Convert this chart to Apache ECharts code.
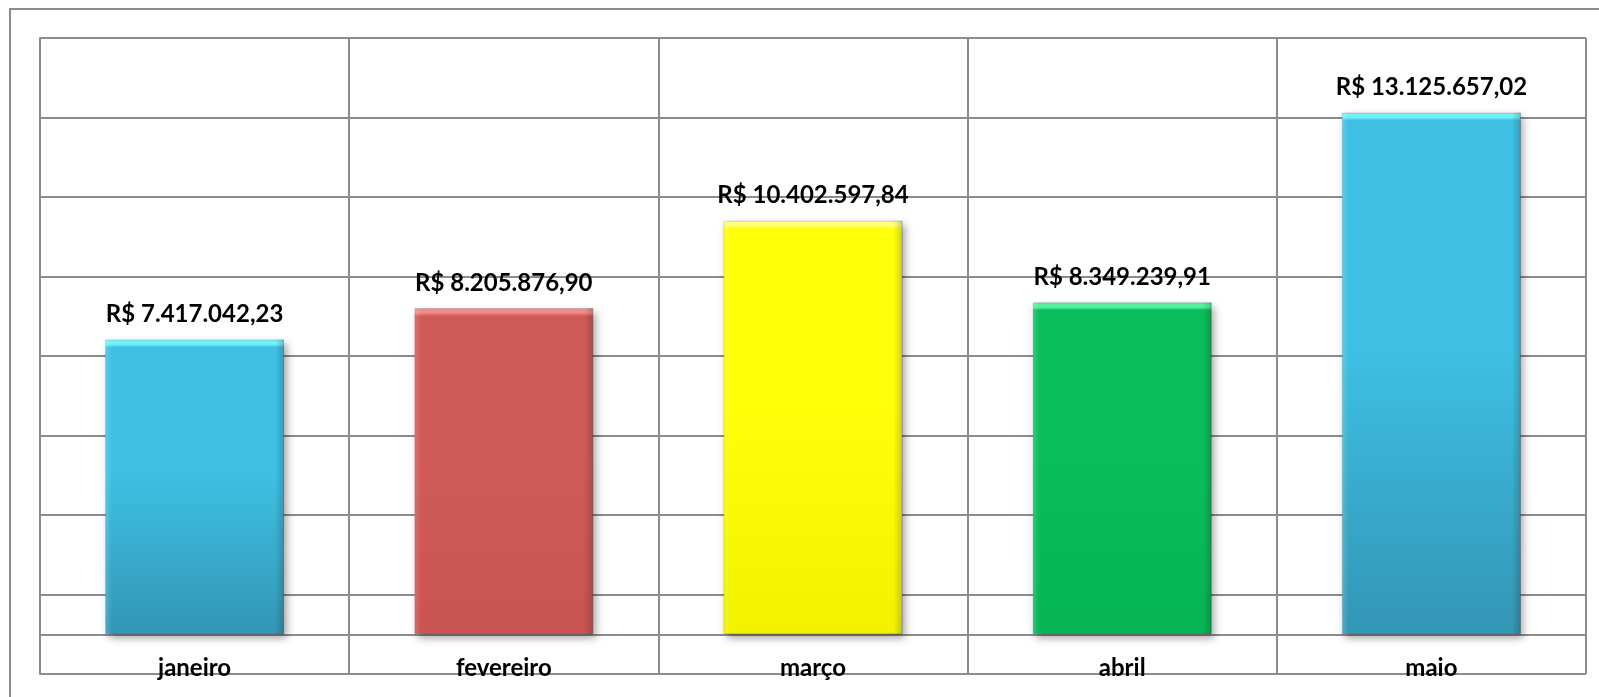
<!DOCTYPE html>
<html>
<head>
<meta charset="utf-8">
<script src="https://cdn.jsdelivr.net/npm/echarts@6/dist/echarts.min.js"></script>
<style>
  html, body { margin: 0; padding: 0; background: #ffffff; }
  #chart { width: 1599px; height: 697px; }
</style>
</head>
<body>
<div id="chart"></div>
<script>
// ---- data ----
const categories = ['janeiro', 'fevereiro', 'março', 'abril', 'maio'];
const values = [7417042.23, 8205876.90, 10402597.84, 8349239.91, 13125657.02];
const barColors = [
  ['#72f2f8', '#3ec0e4', '#3396b5'],
  ['#f48c8a', '#cf5a57', '#c95452'],
  ['#ffff80', '#ffff0a', '#f2f200'],
  ['#55f2a0', '#0abd5b', '#06b455'],
  ['#72f2f8', '#3ec0e4', '#3396b5']
];

function fmtBRL(v) {
  const fixed = v.toFixed(2);
  const parts = fixed.split('.');
  const intPart = parts[0].replace(/\B(?=(\d{3})+(?!\d))/g, '.');
  return 'R$ ' + intPart + ',' + parts[1];
}

const chart = echarts.init(document.getElementById('chart'));
const gridColor = '#8c8c8c';
const pxPerUnit = 636 / 16000000; // only for bevel thickness in the gradient

const data = values.map(function (v, i) {
  const c = barColors[i];
  const h = v * pxPerUnit;
  const bevel = Math.min(0.2, 8 / h);
  return {
    value: v,
    itemStyle: {
      color: new echarts.graphic.LinearGradient(0, 0, 0, 1, [
        { offset: 0, color: c[0] },
        { offset: bevel * 0.6, color: c[0] },
        { offset: bevel, color: c[1] },
        { offset: 0.45, color: c[1] },
        { offset: 1, color: c[2] }
      ]),
      borderColor: 'rgba(0,0,0,0.15)',
      borderWidth: 1,
      shadowBlur: 8,
      shadowOffsetX: 3,
      shadowOffsetY: 4,
      shadowColor: 'rgba(0,0,0,0.35)'
    }
  };
});

const overlay = values.map(function (v) {
  return {
    value: v,
    itemStyle: {
      color: new echarts.graphic.LinearGradient(0, 0, 1, 0, [
        { offset: 0, color: 'rgba(255,255,255,0.18)' },
        { offset: 0.04, color: 'rgba(255,255,255,0.0)' },
        { offset: 0.95, color: 'rgba(0,0,0,0.0)' },
        { offset: 1, color: 'rgba(0,0,0,0.18)' }
      ])
    }
  };
});

chart.setOption({
  animation: false,
  backgroundColor: '#ffffff',
  textStyle: { fontFamily: 'Lato' },
  graphic: [{
    type: 'rect',
    shape: { x: 10, y: 9, width: 1620, height: 720 },
    style: { fill: 'none', stroke: gridColor, lineWidth: 2 },
    silent: true, z: -1
  }],
  grid: { left: 40, top: 38, right: 13, bottom: 23, containLabel: false, outerBoundsMode: 'none' },
  xAxis: {
    type: 'category',
    data: categories,
    axisLine: { show: false, onZero: false },
    axisTick: { show: false },
    splitLine: { show: true, lineStyle: { color: gridColor, width: 2 } },
    axisLabel: {
      color: '#000', fontWeight: 'bold', fontSize: 24, fontFamily: 'Lato', margin: -18
    }
  },
  yAxis: {
    type: 'value',
    min: -1000000,
    max: 15000000,
    interval: 1000000,
    axisLine: { show: true, lineStyle: { color: gridColor, width: 2 } },
    axisTick: { show: false },
    axisLabel: { show: false },
    splitLine: {
      show: true,
      lineStyle: {
        color: [gridColor, gridColor, gridColor, 'rgba(0,0,0,0)', gridColor, 'rgba(0,0,0,0)',
                gridColor, 'rgba(0,0,0,0)', gridColor, 'rgba(0,0,0,0)', gridColor, 'rgba(0,0,0,0)',
                gridColor, 'rgba(0,0,0,0)', gridColor, 'rgba(0,0,0,0)', gridColor],
        width: 2
      }
    }
  },
  series: [{
    type: 'bar',
    data: data,
    barWidth: 179,
    z: 2,
    label: {
      show: true,
      position: 'top',
      distance: 13,
      color: '#000',
      fontWeight: 'bold',
      fontSize: 24,
      fontFamily: 'Lato',
      formatter: function (p) { return fmtBRL(p.value); }
    }
  }, {
    type: 'bar',
    data: overlay,
    barWidth: 179,
    barGap: '-100%',
    z: 3,
    silent: true
  }]
});
</script>
</body>
</html>
